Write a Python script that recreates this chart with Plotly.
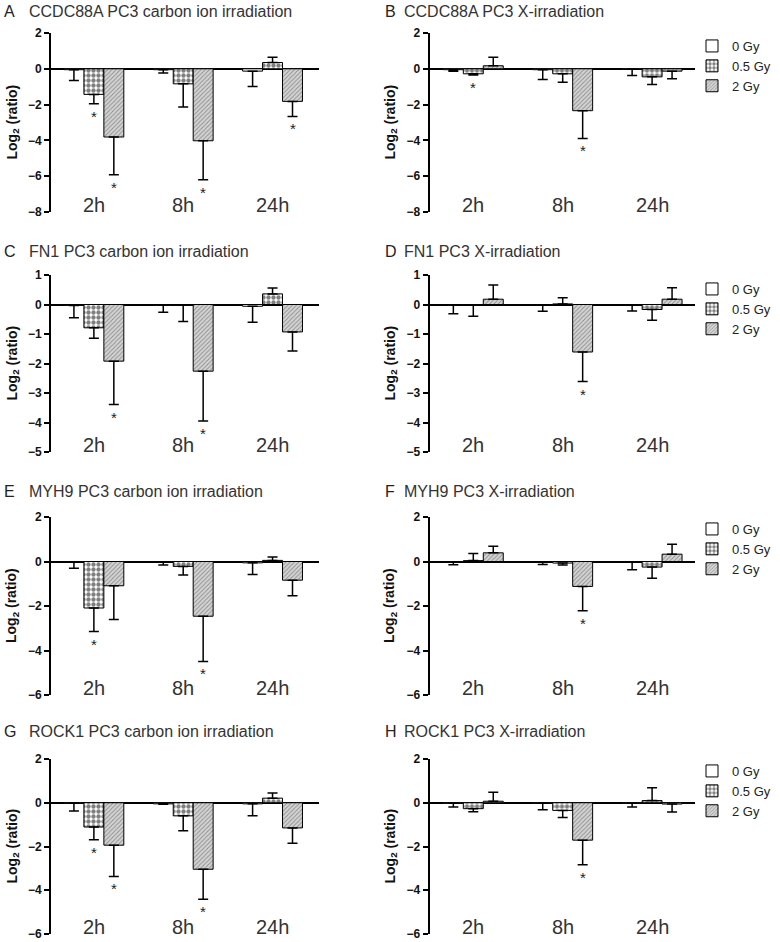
import plotly.graph_objects as go

# ---------------- data ----------------
times = ["2h", "8h", "24h"]
doses = ["0 Gy", "0.5 Gy", "2 Gy"]

# rows = doses (0, 0.5, 2 Gy); columns = 2h, 8h, 24h ; values are log2(ratio)
a_mean = [[-0.05, -0.05, -0.13], [-1.43, -0.84, 0.35], [-3.81, -4.02, -1.82]]
a_err = [[0.60, 0.19, 0.86], [0.52, 1.30, 0.30], [2.11, 2.18, 0.84]]
b_mean = [[-0.05, -0.05, -0.03], [-0.28, -0.28, -0.45], [0.17, -2.34, -0.13]]
b_err = [[0.08, 0.55, 0.34], [0.07, 0.47, 0.43], [0.48, 1.55, 0.43]]
c_mean = [[-0.03, -0.02, -0.06], [-0.79, -0.02, 0.36], [-1.92, -2.26, -0.93]]
c_err = [[0.42, 0.24, 0.54], [0.35, 0.56, 0.20], [1.47, 1.69, 0.65]]
d_mean = [[-0.02, -0.02, -0.02], [-0.02, 0.02, -0.17], [0.18, -1.61, 0.18]]
d_err = [[0.29, 0.21, 0.20], [0.38, 0.21, 0.36], [0.48, 1.00, 0.39]]
e_mean = [[-0.02, -0.02, -0.06], [-2.09, -0.22, 0.05], [-1.09, -2.46, -0.84]]
e_err = [[0.28, 0.14, 0.52], [1.06, 0.39, 0.15], [1.52, 2.03, 0.70]]
f_mean = [[-0.02, -0.02, -0.02], [0.04, -0.07, -0.25], [0.39, -1.12, 0.33]]
f_err = [[0.13, 0.11, 0.35], [0.32, 0.09, 0.50], [0.30, 1.09, 0.45]]
g_mean = [[-0.02, -0.05, -0.05], [-1.11, -0.60, 0.21], [-1.94, -3.04, -1.15]]
g_err = [[0.36, 0.02, 0.55], [0.58, 0.68, 0.23], [1.43, 1.37, 0.70]]
h_mean = [[-0.02, -0.02, -0.02], [-0.27, -0.35, 0.10], [0.07, -1.71, -0.06]]
h_err = [[0.18, 0.30, 0.18], [0.14, 0.32, 0.58], [0.41, 1.12, 0.36]]

# significant (time index, dose index)
a_stars = [(0, 1), (0, 2), (1, 2), (2, 2)]
b_stars = [(0, 1), (1, 2)]
c_stars = [(0, 2), (1, 2)]
d_stars = [(1, 2)]
e_stars = [(0, 1), (1, 2)]
f_stars = [(1, 2)]
g_stars = [(0, 1), (0, 2), (1, 2)]
h_stars = [(1, 2)]

letters = ["A", "B", "C", "D", "E", "F", "G", "H"]
titles = [
    "CCDC88A PC3 carbon ion irradiation", "CCDC88A PC3 X-irradiation",
    "FN1 PC3 carbon ion irradiation", "FN1 PC3 X-irradiation",
    "MYH9 PC3 carbon ion irradiation", "MYH9 PC3 X-irradiation",
    "ROCK1 PC3 carbon ion irradiation", "ROCK1 PC3 X-irradiation",
]
y_ranges = [[-8, 2], [-8, 2], [-5, 1], [-5, 1], [-6, 2], [-6, 2], [-6, 2], [-6, 2]]
y_dticks = [2, 2, 1, 1, 2, 2, 2, 2]

means = [a_mean, b_mean, c_mean, d_mean, e_mean, f_mean, g_mean, h_mean]
errs = [a_err, b_err, c_err, d_err, e_err, f_err, g_err, h_err]
stars = [a_stars, b_stars, c_stars, d_stars, e_stars, f_stars, g_stars, h_stars]

# ---------------- layout geometry (pixels) ----------------
W, H = 780, 942
FONT = "Liberation Sans, Arial, sans-serif"
col_x = [(51, 319), (429.5, 695)]
col_xrange = [[-0.48, 2.52], [-0.49, 2.48]]
row_y = [(33, 212), (275, 452), (517, 695), (759, 934)]
title_y = [12, 251, 491, 731]
letter_x = [2, 383]
title_x = [27, 402]
ytitle_x = [12, 390]
legend_names = ["legend", "legend2", "legend3", "legend4"]
legend_tops = [31, 274, 514, 756]

BARGAP = 0.33
bw = (1 - BARGAP) / 3

dose_markers = [
    dict(color="white", line=dict(color="black", width=1)),
    dict(color="white", line=dict(color="black", width=1),
         pattern=dict(shape=".", fgcolor="black", bgcolor="white", size=5, solidity=0.6)),
    dict(color="#d0d0d0", line=dict(color="black", width=1),
         pattern=dict(shape="/", fgcolor="#444444", bgcolor="#d4d4d4", size=3, solidity=0.3)),
]


def px2x(p):
    return p / W


def px2y(p):
    return 1 - p / H


annotations = []
layout_axes = {}
traces = []
x_idx = [0, 1, 2]

for i in range(8):
    n = i + 1
    col = i % 2
    row = i // 2
    xa = "x" if n == 1 else f"x{n}"
    ya = "y" if n == 1 else f"y{n}"
    xkey = "xaxis" if n == 1 else f"xaxis{n}"
    ykey = "yaxis" if n == 1 else f"yaxis{n}"
    x0, x1 = col_x[col]
    top, bot = row_y[row]

    layout_axes[xkey] = dict(
        domain=[px2x(x0), px2x(x1)], anchor=ya, range=col_xrange[col],
        showline=False, showgrid=False, zeroline=False, showticklabels=False, ticks="",
        fixedrange=True, automargin=False,
    )
    layout_axes[ykey] = dict(
        domain=[px2y(bot), px2y(top)], anchor=xa, range=y_ranges[i], dtick=y_dticks[i],
        showline=True, linecolor="black", linewidth=2, ticks="outside", ticklen=5,
        tickwidth=1.5, tickcolor="black", showgrid=False,
        zeroline=True, zerolinecolor="black", zerolinewidth=2,
        tickfont=dict(family=FONT, size=12, color="#111", weight="bold"),
        fixedrange=True, automargin=False,
    )

    for k, dose in enumerate(doses):
        m = means[i][k]
        e = errs[i][k]
        up = [e[j] if m[j] >= 0 else 0 for j in range(3)]
        down = [e[j] if m[j] < 0 else 0 for j in range(3)]
        tr = go.Bar(
            x=x_idx, y=m, name=dose, xaxis=xa, yaxis=ya,
            marker=dose_markers[k],
            error_y=dict(type="data", symmetric=False, array=up, arrayminus=down,
                         color="black", thickness=1.5, width=5),
            showlegend=(col == 1),
        )
        if col == 1:
            tr.legend = legend_names[row]
        traces.append(tr)

    # stars
    for (t, k) in stars[i]:
        m = means[i][k][t]
        e = errs[i][k][t]
        annotations.append(dict(
            x=t + (k - 1) * bw, y=m - e if m < 0 else m + e, xref=xa, yref=ya,
            text="*", showarrow=False, yanchor="top", yshift=-2,
            font=dict(family=FONT, size=15, color="#222"),
        ))

    # category labels
    for j, t in enumerate(times):
        annotations.append(dict(
            x=j, y=0, xref=xa, yref=f"{ya} domain", text=t, showarrow=False,
            yanchor="middle", yshift=7,
            font=dict(family=FONT, size=20, color="#333"),
        ))

    # panel letter + title
    annotations.append(dict(
        x=px2x(letter_x[col]), y=px2y(title_y[row]), xref="paper", yref="paper",
        text=letters[i], showarrow=False, xanchor="left", yanchor="middle",
        font=dict(family=FONT, size=16, color="#222"),
    ))
    annotations.append(dict(
        x=px2x(title_x[col]), y=px2y(title_y[row]), xref="paper", yref="paper",
        text=titles[i], showarrow=False, xanchor="left", yanchor="middle",
        font=dict(family=FONT, size=16, color="#333"),
    ))
    # y-axis title
    annotations.append(dict(
        x=px2x(ytitle_x[col]), y=px2y((top + bot) / 2), xref="paper", yref="paper",
        text="<b>Log<sub>2</sub> (ratio)</b>", showarrow=False, textangle=-90,
        xanchor="center", yanchor="middle",
        font=dict(family=FONT, size=14, color="#111"),
    ))

fig = go.Figure(data=traces)

legend_cfg = {}
for r, lname in enumerate(legend_names):
    legend_cfg[lname] = dict(
        x=px2x(692), y=px2y(legend_tops[r]), xanchor="left", yanchor="top",
        font=dict(family=FONT, size=13, color="#222"), bgcolor="rgba(0,0,0,0)",
        traceorder="normal", borderwidth=0,
    )

fig.update_layout(
    width=W, height=H, autosize=False,
    margin=dict(l=0, r=0, t=0, b=0, pad=0, autoexpand=False),
    paper_bgcolor="white", plot_bgcolor="white",
    barmode="group", bargap=BARGAP, bargroupgap=0,
    annotations=annotations,
    font=dict(family=FONT),
    **layout_axes, **legend_cfg,
)

page_fix = (
    "document.documentElement.style.margin='0';"
    "document.body.style.margin='0';"
    "document.body.style.overflow='hidden';"
)

fig.write_html("out.html", config={"displayModeBar": False}, post_script=page_fix)
